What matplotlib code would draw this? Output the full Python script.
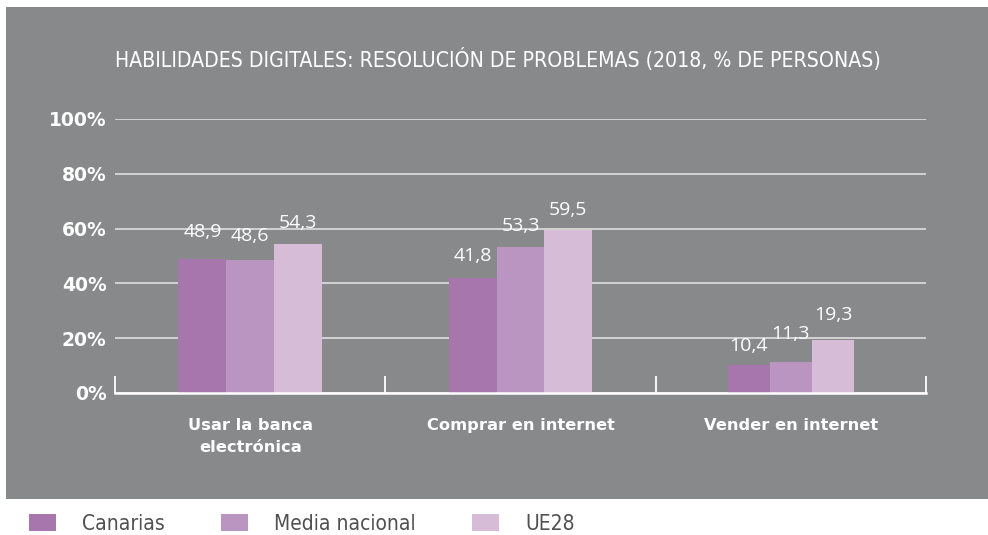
import matplotlib
matplotlib.use("Agg")
import matplotlib.pyplot as plt
from matplotlib.patches import Rectangle
import numpy as np

# datos
categorias = ["Usar la banca\nelectrónica", "Comprar en internet", "Vender en internet"]
series = ["Canarias", "Media nacional", "UE28"]
canarias = [48.9, 41.8, 10.4]
media_nacional = [48.6, 53.3, 11.3]
ue28 = [54.3, 59.5, 19.3]
yticks = [0, 20, 40, 60, 80, 100]
titulo = "HABILIDADES DIGITALES: RESOLUCIÓN DE PROBLEMAS (2018, % DE PERSONAS)"

colores = ["#a676ac", "#bb95c1", "#d6bcd6"]
gris = "#88898b"
anchos = [0.177, 0.177, 0.156]
# separacion (px) entre la etiqueta y la barra, por serie y categoria
sep_etiq = [[21.7, 17, 13.7], [19, 16, 23], [16.7, 15, 20]]
fuente_cond = ["DejaVu Sans"]
fuente_bold = ["DejaVu Sans"]

fig = plt.figure(figsize=(9.88, 5.35), dpi=100)
fig.patch.set_facecolor("white")
# fondo gris del grafico
fig.patches.append(Rectangle((6 / 988, 1 - 499 / 535), 982 / 988, 492 / 535,
                             transform=fig.transFigure, facecolor=gris,
                             edgecolor="none", zorder=-10))

ax = fig.add_axes([115 / 988, 1 - 393 / 535, 811 / 988, 274 / 535])
ax.set_facecolor("none")
ax.set_zorder(2)

x = np.arange(len(categorias))
valores = [canarias, media_nacional, ue28]
for i, vals in enumerate(valores):
    for j, v in enumerate(vals):
        w = anchos[j]
        xc = x[j] + (i - 1) * w
        ax.bar(xc, v, width=w, color=colores[i], zorder=3,
               label=series[i] if j == 0 else None)
        ax.annotate(f"{v:.1f}".replace(".", ","), (xc, v),
                    xytext=(0, sep_etiq[i][j] * 0.72),
                    textcoords="offset points", ha="center", va="baseline",
                    color="white", fontsize=14, family=["Open Sans", "DejaVu Sans"],
                    zorder=4)

ax.set_xlim(-0.5, len(categorias) - 0.5)
ax.set_ylim(0, 100)
ax.set_yticks(yticks)
ax.set_yticklabels([f"{t}%" for t in yticks])
ax.yaxis.grid(True, color="#e6e6e6", linewidth=1.1, zorder=1)
ax.set_axisbelow(True)

for s in ["top", "right", "left"]:
    ax.spines[s].set_visible(False)
ax.spines["bottom"].set_color("white")
ax.spines["bottom"].set_linewidth(1.8)
ax.spines["bottom"].set_zorder(5)

ax.set_xticks(x)
ax.set_xticklabels(categorias, linespacing=1.6)
ax.set_xticks(np.arange(-0.5, len(categorias)), minor=True)
ax.tick_params(axis="x", which="major", length=0, pad=18, colors="white",
               labelsize=11.7)
ax.tick_params(axis="x", which="minor", length=12, width=1.3, direction="in",
               color="white")
ax.tick_params(axis="y", length=0, pad=6, colors="white", labelsize=13.5)
for lab in ax.get_xticklabels() + ax.get_yticklabels():
    lab.set_family(fuente_bold)
    lab.set_fontweight("bold")

fig.text(498 / 988, 1 - 60 / 535, titulo, ha="center", va="center",
         color="white", fontsize=15.2, family=fuente_cond, stretch="condensed")

leg = fig.legend(loc="center left", bbox_to_anchor=(29 / 988, 1 - 524 / 535),
                 ncol=3, frameon=False, borderpad=0, borderaxespad=0,
                 handlelength=1.3, handleheight=0.87, handletextpad=1.25,
                 columnspacing=2.7,
                 prop={"family": fuente_cond, "size": 15, "stretch": "condensed"})
for t in leg.get_texts():
    t.set_color("#505050")

fig.savefig("out.png", dpi=100)
